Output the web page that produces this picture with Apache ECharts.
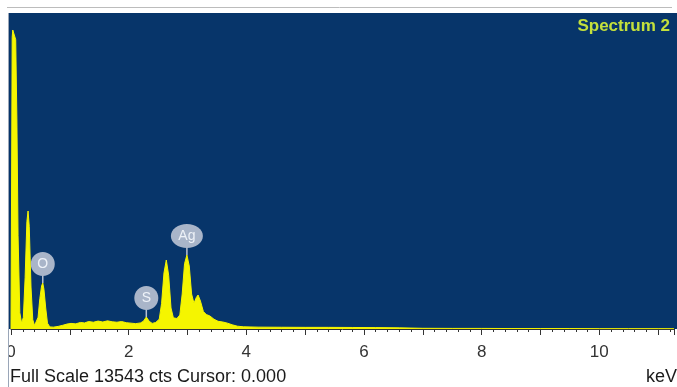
<!DOCTYPE html>
<html>
<head>
<meta charset="utf-8">
<script src="https://cdn.jsdelivr.net/npm/echarts@6/dist/echarts.min.js"></script>
<style>html,body{margin:0;padding:0;background:#fff}#c{width:677px;height:387px}</style>
</head>
<body>
<div id="c"></div>
<script>
var energy = [0.00,0.02,0.03,0.06,0.08,0.10,0.12,0.15,0.18,0.21,0.24,0.27,0.29,0.31,0.34,0.37,0.40,0.43,0.46,0.49,0.52,0.54,0.56,0.59,0.62,0.66,0.72,0.80,0.88,0.95,1.02,1.10,1.18,1.25,1.32,1.40,1.48,1.56,1.64,1.72,1.80,1.88,1.96,2.04,2.12,2.20,2.25,2.30,2.35,2.40,2.46,2.52,2.56,2.60,2.64,2.68,2.72,2.76,2.82,2.87,2.91,2.95,2.99,3.03,3.07,3.11,3.15,3.18,3.22,3.27,3.32,3.38,3.45,3.52,3.60,3.68,3.76,3.85,3.95,4.2,4.6,5.0,5.4,5.8,6.2,6.6,7.0,7.5,8.0,8.5,9.0,9.5,10.0,10.5,11.0,11.27];
var counts = [0,12500,12815,12750,12400,9000,4000,700,250,500,2200,4600,5057,4400,1800,400,150,180,500,1300,1850,1971,1700,900,250,90,80,110,160,210,240,220,280,260,320,290,340,300,350,310,290,320,270,250,230,260,330,514,330,240,280,420,1100,2400,2957,2300,900,480,450,600,1500,2800,3172,2700,1500,1100,1350,1457,1200,750,620,560,420,330,300,250,180,120,95,80,75,70,70,65,60,50,30,25,25,20,20,20,15,15,15,15];
var peakLabels = ['O','S','Ag'];
var peakEnergy = [0.54, 2.30, 2.99];
var peakCounts = [1971, 514, 3172];
var xTicks = [0,2,4,6,8,10];
var fullScale = 13543;
var xMax = 11.27;

var spectrum = energy.map(function(e,i){return [e,counts[i]];});
var peaks = peakLabels.map(function(l,i){return [peakEnergy[i], peakCounts[i], l];});

var FONT = 'Liberation Sans, Arial, sans-serif';
var chart = echarts.init(document.getElementById('c'));
chart.setOption({
  animation:false,
  grid:{left:11,right:0,top:13,bottom:58},
  xAxis:{type:'value',min:0,max:xMax,interval:1,
    axisLine:{show:true,lineStyle:{color:'#333',width:1}},
    axisTick:{show:true,length:6,lineStyle:{color:'#333'}},
    minorTick:{show:true,splitNumber:5,length:3,lineStyle:{color:'#333'}},
    splitLine:{show:false},
    axisLabel:{margin:15,fontSize:17,color:'#333',fontFamily:FONT,
      formatter:function(v){return xTicks.indexOf(v)>=0?String(v):'';}}
  },
  yAxis:{type:'value',min:0,max:fullScale,show:false},
  graphic:[
    {type:'rect',z:-10,silent:true,shape:{x:9,y:13,width:668,height:316},style:{fill:'#07356a'}},
    {type:'rect',z:100,silent:true,shape:{x:0,y:0,width:8,height:387},style:{fill:'#fff'}},
    {type:'line',z:100,silent:true,shape:{x1:8.5,y1:13,x2:8.5,y2:387},style:{stroke:'#9aa6b8',lineWidth:1}},
    {type:'line',z:100,silent:true,shape:{x1:7,y1:7.5,x2:672,y2:7.5},style:{stroke:'#bcbcbc',lineWidth:1}},
    {type:'text',z:100,style:{text:'Spectrum 2',x:670,y:26,align:'right',verticalAlign:'middle',fill:'#c4e03c',font:'bold 17px '+FONT}},
    {type:'text',z:100,style:{text:'Full Scale '+fullScale+' cts Cursor: 0.000',x:10,y:377,align:'left',verticalAlign:'middle',fill:'#1a1a1a',font:'18px '+FONT}},
    {type:'text',z:100,style:{text:'keV',x:677,y:377,align:'right',verticalAlign:'middle',fill:'#1a1a1a',font:'18px '+FONT}}
  ],
  series:[
    {type:'line',data:spectrum,symbol:'none',smooth:false,
      lineStyle:{color:'#f5f500',width:1},areaStyle:{color:'#f5f500',opacity:1},z:2},
    {type:'custom',data:peaks,z:5,
      renderItem:function(params,api){
        var p = api.coord([api.value(0),api.value(1)]);
        var lbl = peakLabels[params.dataIndex];
        var rx = lbl.length>1?16:12, ry = 12;
        var cy = p[1]-19;
        return {type:'group',children:[
          {type:'line',shape:{x1:p[0],y1:p[1],x2:p[0],y2:cy+ry-1},style:{stroke:'#b8c2d4',lineWidth:1.5}},
          {type:'ellipse',shape:{cx:p[0],cy:cy,rx:rx,ry:ry},style:{fill:'#a9b5c9'}},
          {type:'text',style:{text:lbl,x:p[0],y:cy,align:'center',verticalAlign:'middle',fill:'#eef2f8',font:'14px '+FONT}}
        ]};
      }}
  ]
});
</script>
</body>
</html>
